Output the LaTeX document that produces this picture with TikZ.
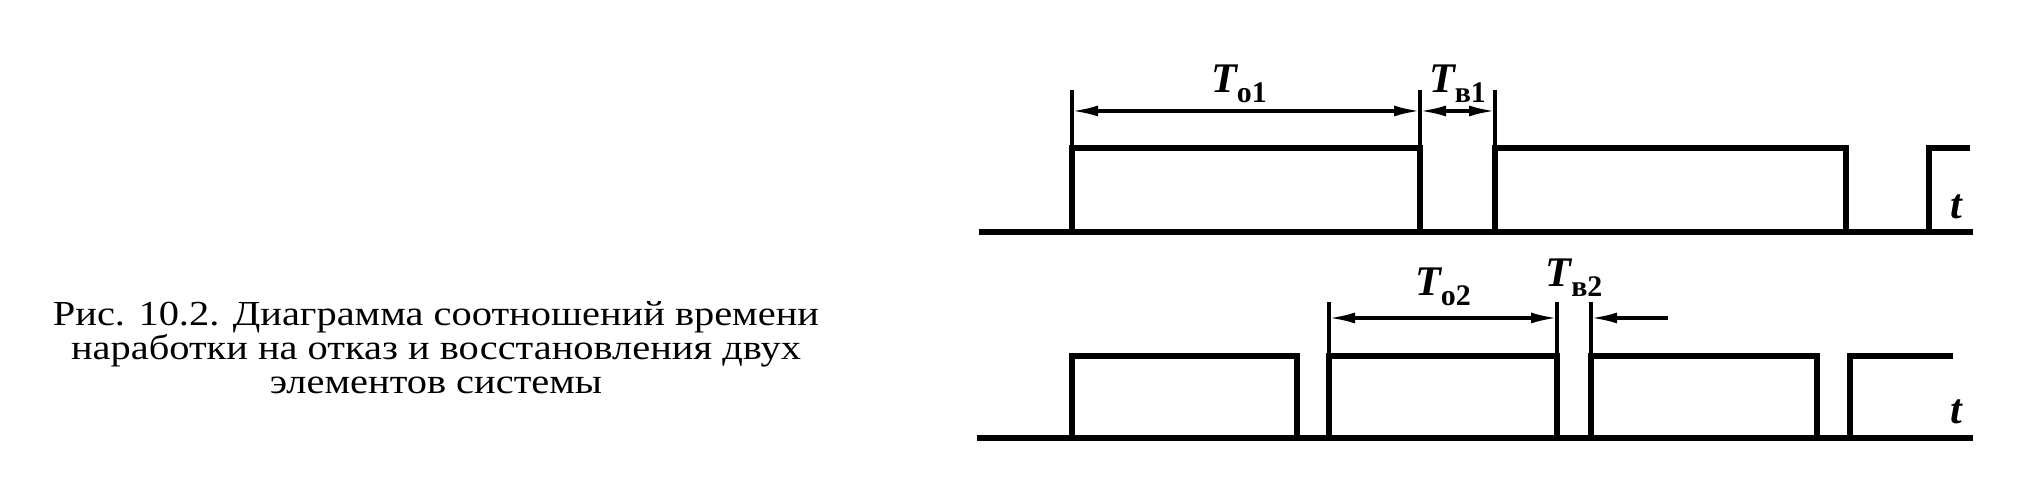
\documentclass[tikz,border=0pt]{standalone}
\usepackage{fontspec}
\setmainfont{Liberation Serif}
\newfontfamily\podpfont[FakeStretch=1.15]{Liberation Serif}
\usetikzlibrary{arrows.meta,positioning,calc}
\tikzset{
  sig/.style={line width=1.6pt,line cap=rect},
  vyn/.style={line width=0.9pt},
  razm/.style={line width=0.9pt,{Latex[length=2.6mm,width=1.1mm]}-{Latex[length=2.6mm,width=1.1mm]}},
  razmr/.style={line width=0.9pt,-{Latex[length=2.6mm,width=1.1mm]}},
  obozn/.style={font=\fontsize{12}{14}\selectfont\bfseries\itshape,inner sep=1pt},
  podp/.style={align=center,font=\podpfont\fontsize{10}{9.7}\selectfont},
}
\newcommand{\Tind}[1]{\textit{T}\raisebox{-0.5ex}{\fontsize{8.5}{9}\selectfont\upshape #1}}

\begin{document}
\begin{tikzpicture}
  \useasboundingbox (0,0) rectangle (20.29,4.80);
  % подпись
  \node[podp] (cap) at (4.36,1.32) {Рис. 10.2. Диаграмма соотношений времени\\
    наработки на отказ и восстановления двух\\ элементов системы};
  % первый элемент
  \draw[sig] (9.82,2.48) -- (19.70,2.48);
  \draw[sig] (10.72,2.48) |- (14.20,3.32) -- (14.20,2.48);
  \draw[sig] (14.95,2.48) |- (18.46,3.32) -- (18.46,2.48);
  \draw[sig] (19.29,2.48) |- (19.67,3.32);
  \coordinate (a1) at (10.72,3.69); \coordinate (b1) at (14.20,3.69); \coordinate (c1) at (14.95,3.69);
  \draw[vyn] (10.72,3.32) -- (10.72,3.90);
  \draw[vyn] (14.20,3.32) -- (14.20,3.90);
  \draw[vyn] (14.95,3.32) -- (14.95,3.90);
  \draw[razm] (a1) -- node[obozn,above,yshift=1pt,pos=0.48] (to1) {\Tind{о1}} (b1);
  \draw[razm] (b1) -- node[obozn,above,yshift=1pt] (tv1) {\Tind{в1}} (c1);
  \node[obozn] (t1) at (19.56,2.73) {t};
  % второй элемент
  \draw[sig] (9.80,0.42) -- (19.70,0.42);
  \draw[sig] (10.72,0.42) |- (12.97,1.24) -- (12.97,0.42);
  \draw[sig] (13.29,0.42) |- (15.57,1.24) -- (15.57,0.42);
  \draw[sig] (15.91,0.42) |- (18.17,1.24) -- (18.17,0.42);
  \draw[sig] (18.50,0.42) |- (19.50,1.24);
  \coordinate (a2) at (13.29,1.62); \coordinate (b2) at (15.57,1.62);
  \coordinate (c2) at (15.91,1.62); \coordinate (d2) at (16.68,1.62);
  \draw[vyn] (13.29,1.24) -- (13.29,1.78);
  \draw[vyn] (15.57,1.24) -- (15.57,1.78);
  \draw[vyn] (15.91,1.24) -- (15.91,1.78);
  \draw[razm] (a2) -- node[obozn,above,yshift=2pt] (to2) {\Tind{о2}} (b2);
  \draw[razmr] (d2) -- (c2);
  \node[obozn,above,yshift=5pt] (tv2) at ($(b2)!0.5!(c2)$) {\Tind{в2}};
  \node[obozn] (t2) at (19.56,0.68) {t};
\end{tikzpicture}
\end{document}
